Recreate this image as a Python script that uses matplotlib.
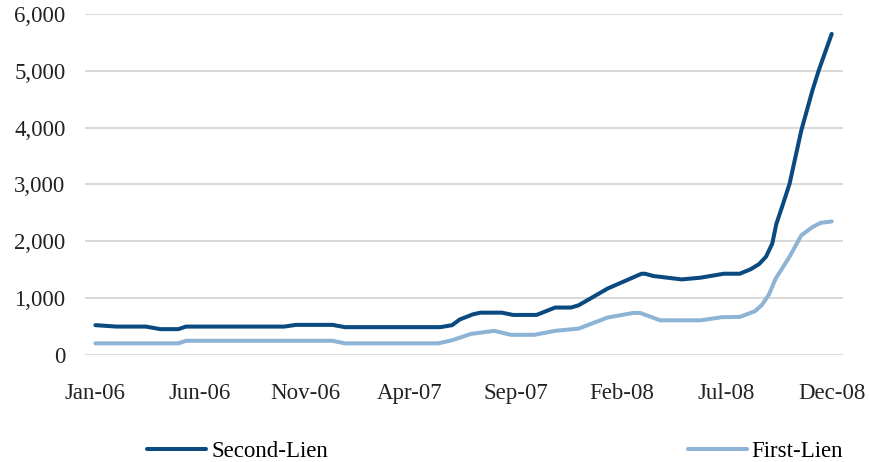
import pandas as pd
import matplotlib
matplotlib.use('agg')
import matplotlib.pyplot as plt
import matplotlib.dates as mdates
from matplotlib.ticker import FuncFormatter

# second-lien series
second_dates = ['2006-01-01', '2006-02-01', '2006-03-15', '2006-04-05', '2006-05-01',
                '2006-05-12', '2006-10-01', '2006-10-18', '2006-12-10', '2006-12-28',
                '2007-05-15', '2007-06-01', '2007-06-12', '2007-07-01', '2007-07-12',
                '2007-08-12', '2007-08-28', '2007-10-01', '2007-10-28', '2007-11-20',
                '2007-12-01', '2008-01-12', '2008-03-01', '2008-03-06', '2008-03-18',
                '2008-04-28', '2008-05-25', '2008-06-28', '2008-07-21', '2008-08-06',
                '2008-08-18', '2008-08-28', '2008-09-06', '2008-09-12', '2008-09-20',
                '2008-10-01', '2008-10-18', '2008-11-03', '2008-11-12', '2008-12-01']
second_lien = [525, 500, 500, 455, 455,
               500, 500, 530, 530, 490,
               490, 525, 625, 715, 745,
               745, 705, 705, 835, 835,
               875, 1170, 1430, 1430, 1390,
               1330, 1360, 1430, 1430, 1510,
               1600, 1730, 1960, 2310, 2600,
               3010, 3950, 4650, 5000, 5650]

# first-lien series
first_dates = ['2006-01-01', '2006-05-01', '2006-05-12', '2006-12-10', '2006-12-28',
               '2007-05-12', '2007-06-01', '2007-06-28', '2007-08-01', '2007-08-25',
               '2007-09-28', '2007-10-28', '2007-12-01', '2008-01-12', '2008-02-18',
               '2008-02-28', '2008-03-28', '2008-05-25', '2008-06-25', '2008-07-21',
               '2008-08-12', '2008-08-22', '2008-09-01', '2008-09-11', '2008-10-01',
               '2008-10-18', '2008-11-03', '2008-11-15', '2008-12-01']
first_lien = [205, 205, 250, 250, 205,
              205, 260, 370, 425, 355,
              355, 425, 465, 660, 740,
              740, 610, 610, 665, 670,
              770, 880, 1060, 1345, 1730,
              2105, 2250, 2325, 2350]

tick_dates = ['2006-01-01', '2006-06-01', '2006-11-01', '2007-04-01',
              '2007-09-01', '2008-02-01', '2008-07-01', '2008-12-01']

dark = '#0B4A80'
light = '#8DB3D5'
font = 'Liberation Serif'
fs = 16.5

fig = plt.figure(figsize=(8.7, 4.62), dpi=100)
ax = fig.add_axes([0.0977, 0.2316, 0.871, 0.7381])

ax.plot(pd.to_datetime(second_dates), second_lien, color=dark, lw=2.9,
        solid_capstyle='round', label='Second-Lien')
ax.plot(pd.to_datetime(first_dates), first_lien, color=light, lw=2.9,
        solid_capstyle='round', label='First-Lien')

ax.set_ylim(0, 6000)
ax.set_yticks(range(0, 6001, 1000))
ax.yaxis.set_major_formatter(FuncFormatter(lambda v, p: f'{int(v):,}'))
ax.set_xlim(pd.Timestamp('2005-12-17'), pd.Timestamp('2008-12-17'))
ax.set_xticks(pd.to_datetime(tick_dates))
ax.xaxis.set_major_formatter(mdates.DateFormatter('%b-%y'))

ax.grid(axis='y', color='#d9d9d9', lw=1.4)
ax.set_axisbelow(True)
for s in ax.spines.values():
    s.set_visible(False)

ax.tick_params(axis='y', length=0, pad=14, labelsize=fs, labelcolor='#222222')
ax.tick_params(axis='x', length=0, pad=20, labelsize=fs, labelcolor='#222222')
for lab in ax.get_xticklabels() + ax.get_yticklabels():
    lab.set_fontfamily(font)

fig.legend(loc='center', bbox_to_anchor=(0.569, 0.022), ncol=2, frameon=False,
           handlelength=2.6, handletextpad=0.2, columnspacing=15.7,
           prop={'family': font, 'size': fs})

fig.savefig('out.png', dpi=100)
